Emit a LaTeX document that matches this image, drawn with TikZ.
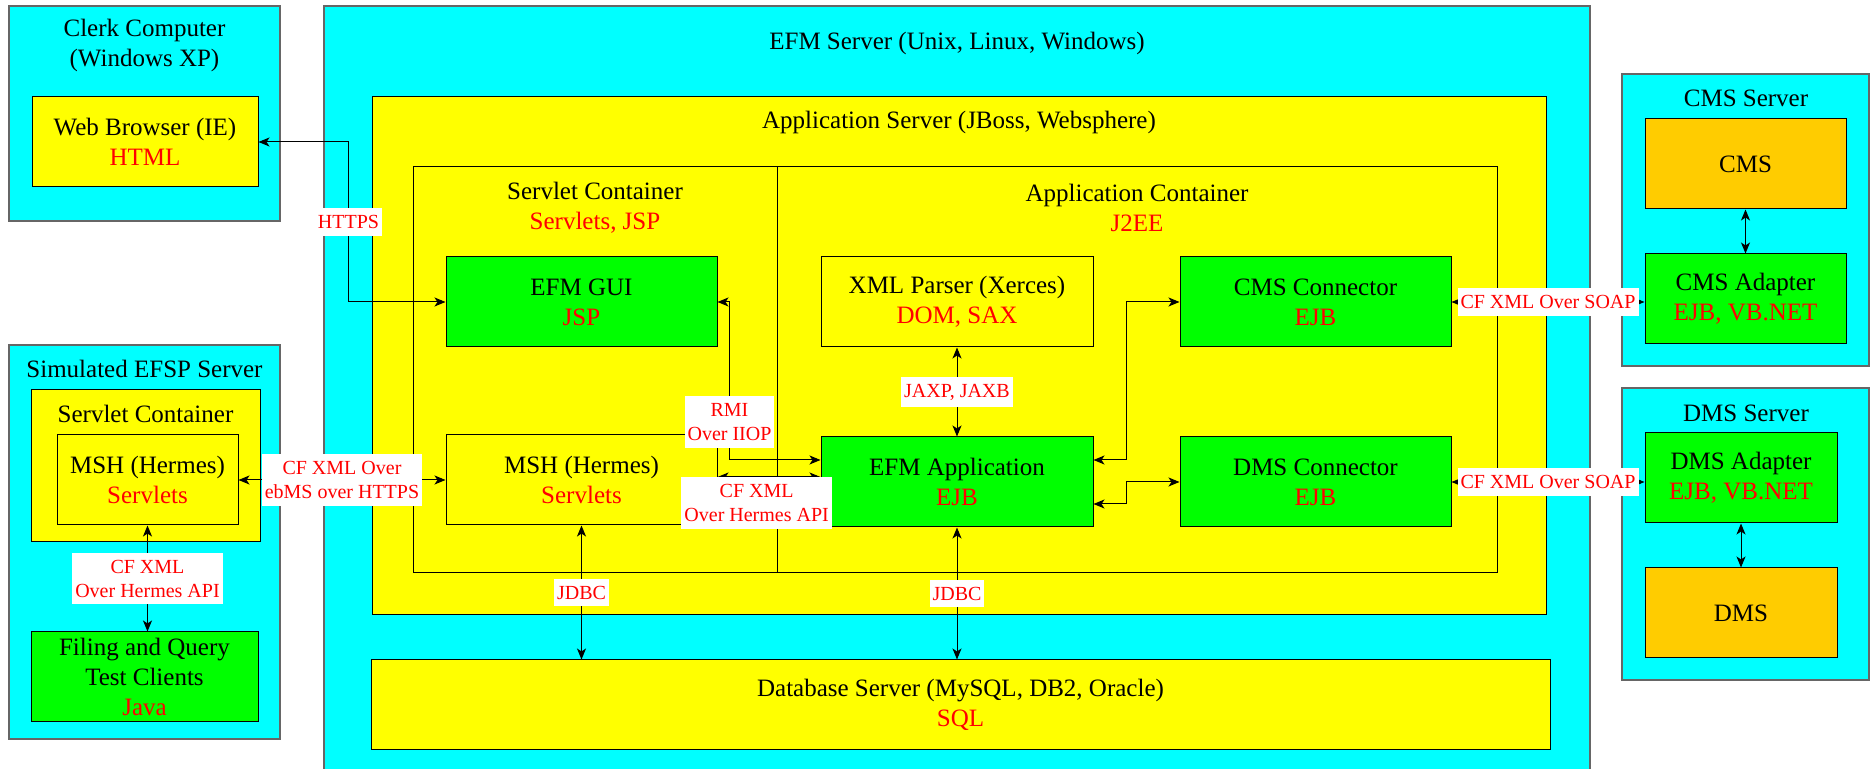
\documentclass[tikz,border=0pt]{standalone}
\usepackage{fontspec}
\setmainfont{Liberation Serif}
\usepackage{tikz}
\usetikzlibrary{arrows,arrows.meta,calc,fit,positioning}
\definecolor{hostcyan}{RGB}{0,255,255}
\definecolor{layeryellow}{RGB}{255,255,0}
\definecolor{partgreen}{RGB}{0,255,0}
\definecolor{legacyorange}{RGB}{255,204,0}
\newcommand{\boxfont}{\fontsize{12.5}{15}\selectfont}
\newcommand{\protofont}{\fontsize{10}{12}\selectfont}
\newcommand{\tech}[1]{\textcolor{red}{#1}}
\tikzset{%
	host/.style   = {draw=black!60, fill=hostcyan, inner sep=0pt, line width=0.6pt},
	layer/.style  = {draw, fill=layeryellow, inner sep=0pt, line width=0.5pt},
	part/.style   = {draw, fill=partgreen, inner sep=0pt, line width=0.5pt},
	legacy/.style = {draw, fill=legacyorange, inner sep=0pt, line width=0.5pt},
	frame/.style  = {draw, inner sep=0pt, line width=0.5pt},
	title/.style  = {font=\boxfont, align=center, inner sep=0pt},
	proto/.style  = {fill=white, text=red, font=\protofont, align=center, inner xsep=1.5pt, inner ysep=3.5pt},
	link/.style   = {<->, >={Stealth[length=5.5pt, width=4.5pt, inset=1.5pt]}, line width=0.5pt},
}
\begin{document}
\begin{tikzpicture}[x=0.5pt, y=-0.5pt]
	\useasboundingbox (0,0) rectangle (1870,769);
	
	% clerk computer
	\node[host, fit={(9,6) (280,221)}] (clerk) {};
	\node[title] (clerktitle) at (144.5,45) {Clerk Computer\\(Windows XP)};
	\node[layer, fit={(32,97) (258,187)}] (web) {};
	\node[title] (webtext) at (web) {Web Browser (IE)\\\tech{HTML}};
	
	% simulated EFSP
	\node[host, fit={(9,345) (280,739)}] (efsp) {};
	\node[title] (efsptitle) at (144.5,369) {Simulated EFSP Server};
	\node[layer, fit={(31,390) (260,542)}] (esc) {};
	\node[title] (esctitle) at (145.5,414) {Servlet Container};
	\node[layer, fit={(57,435) (238,525)}] (emsh) {};
	\node[title] (emshtext) at (emsh) {MSH (Hermes)\\\tech{Servlets}};
	\node[part, fit={(31,632) (258,722)}] (client) {};
	\node[title] (clienttext) at (client) {Filing and Query\\Test Clients\\\tech{Java}};
	
	% EFM server
	\node[host, fit={(324,6) (1590,775)}] (efm) {};
	\node[title] (efmtitle) at (957,43) {EFM Server (Unix, Linux, Windows)};
	\node[layer, fit={(372,97) (1546,615)}] (appsrv) {};
	\node[title] (appsrvtitle) at (959,122) {Application Server (JBoss, Websphere)};
	\node[frame, fit={(413,167) (777,573)}] (sc) {};
	\node[frame, fit={(777,167) (1497,573)}] (ac) {};
	\node[title] (sctitle) at (595,208) {Servlet Container\\\tech{Servlets, JSP}};
	\node[title] (actitle) at (1137,208) {Application Container\\\tech{J2EE}};
	\node[part, fit={(446,257) (717,347)}] (gui) {};
	\node[title] (guitext) at (gui) {EFM GUI\\\tech{JSP}};
	\node[layer, fit={(446,435) (717,525)}] (msh) {};
	\node[title] (mshtext) at (msh) {MSH (Hermes)\\\tech{Servlets}};
	\node[layer, fit={(821,257) (1093,347)}] (xml) {};
	\node[title] (xmltext) at (xml) {XML Parser (Xerces)\\\tech{DOM, SAX}};
	\node[part, fit={(821,437) (1093,527)}] (app) {};
	\node[title] (apptext) at (app) {EFM Application\\\tech{EJB}};
	\node[part, fit={(1180,257) (1451,347)}] (cmsc) {};
	\node[title] (cmsctext) at (cmsc) {CMS Connector\\\tech{EJB}};
	\node[part, fit={(1180,437) (1451,527)}] (dmsc) {};
	\node[title] (dmsctext) at (dmsc) {DMS Connector\\\tech{EJB}};
	\node[layer, fit={(371,660) (1550,750)}] (db) {};
	\node[title] (dbtext) at (db) {Database Server (MySQL, DB2, Oracle)\\\tech{SQL}};
	
	% CMS and DMS servers
	\node[host, fit={(1622,74) (1869,366)}] (cmssrv) {};
	\node[title] (cmssrvtitle) at (1746,98) {CMS Server};
	\node[legacy, fit={(1645,119) (1846,209)}] (cms) {};
	\node[title] (cmstext) at (cms) {CMS};
	\node[part, fit={(1645,254) (1846,344)}] (cmsa) {};
	\node[title] (cmsatext) at (cmsa) {CMS Adapter\\\tech{EJB, VB.NET}};
	\node[host, fit={(1622,388) (1869,680)}] (dmssrv) {};
	\node[title] (dmssrvtitle) at (1746,413) {DMS Server};
	\node[part, fit={(1645,433) (1837,523)}] (dmsa) {};
	\node[title] (dmsatext) at (dmsa) {DMS Adapter\\\tech{EJB, VB.NET}};
	\node[legacy, fit={(1645,568) (1837,658)}] (dms) {};
	\node[title] (dmstext) at (dms) {DMS};
	
	% connectors
	\draw[link] (web.east) -- ++(90,0) |- (gui.west) node[proto, pos=0.25] (https) {HTTPS};
	\draw[link] (emsh.east) -- (msh.west) node[proto, midway] (ebms) {CF XML Over\\ebMS over HTTPS};
	\draw[link] (emsh.south) -- (emsh.south |- client.north) node[proto, midway] (api) {CF XML\\Over Hermes API};
	\draw[link] (gui.east) -- ++(12,0) |- ($(app.west)+(0,-22)$) node[proto, pos=0.38] (rmi) {RMI\\Over IIOP};
	\draw[link] ($(msh.east)+(0,-3)$) -- ($(app.west)+(0,-5)$) node[proto, pos=0.38, anchor=north] (hermes) {CF XML\\Over Hermes API};
	\draw[link] (xml.south) -- (app.north) node[proto, midway] (jaxp) {JAXP, JAXB};
	\draw[link] ($(app.east)+(0,-22)$) -- ++(33,0) |- (cmsc.west);
	\draw[link] ($(app.east)+(0,22)$) -- ++(33,0) |- (dmsc.west);
	\draw[link] (cmsc.east) -- (cmsc.east -| cmsa.west) node[proto, midway] (cmssoap) {CF XML Over SOAP};
	\draw[link] (dmsc.east) -- (dmsc.east -| dmsa.west) node[proto, midway] (dmssoap) {CF XML Over SOAP};
	\draw[link] (cms.south) -- (cmsa.north);
	\draw[link] (dmsa.south) -- (dms.north);
	\draw[link] (msh.south) -- (msh.south |- db.north) node[proto, midway] (jdbcmsh) {JDBC};
	\draw[link] (app.south) -- (app.south |- db.north) node[proto, midway] (jdbcapp) {JDBC};
\end{tikzpicture}
\end{document}
